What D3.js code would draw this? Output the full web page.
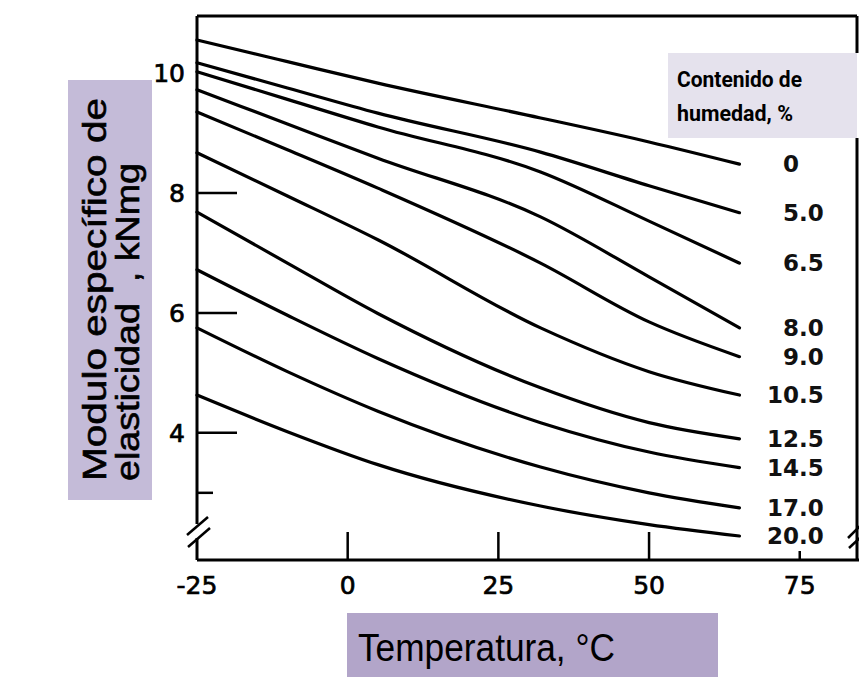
<!DOCTYPE html>
<html>
<head>
<meta charset="utf-8">
<script src="https://cdn.jsdelivr.net/npm/d3@7/dist/d3.min.js"></script>
<style>
	body { margin: 0; background: #fff; }
	svg { display: block; }
</style>
</head>
<body>
<svg id="svg_chart" width="859" height="677"></svg>
<script>
// temperatura (°C) de los puntos leidos
var temps = [-25, -10, 5, 32, 50, 65];

// modulo especifico por contenido de humedad
var m0 = [10.55, 10.19, 9.83, 9.25, 8.85, 8.48];
var m50 = [10.17, 9.75, 9.33, 8.68, 8.12, 7.67];
var m65 = [10.02, 9.56, 9.10, 8.35, 7.53, 6.83];
var m80 = [9.72, 9.15, 8.58, 7.60, 6.60, 5.75];
var m90 = [9.35, 8.72, 8.08, 6.83, 5.85, 5.27];
var m105 = [8.67, 7.95, 7.22, 5.75, 5.02, 4.63];
var m125 = [7.68, 6.83, 5.99, 4.75, 4.17, 3.90];
var m145 = [6.72, 5.96, 5.24, 4.17, 3.68, 3.42];
var m170 = [5.75, 5.02, 4.36, 3.43, 3.00, 2.75];
var m200 = [4.63, 4.02, 3.47, 2.78, 2.47, 2.28];

var seriesLabels = ["0", "5.0", "6.5", "8.0", "9.0", "10.5", "12.5", "14.5", "17.0", "20.0"];
var seriesValues = [m0, m50, m65, m80, m90, m105, m125, m145, m170, m200];

var xTicks = [-25, 0, 25, 50, 75];
var yTicks = [4, 6, 8, 10];
var yMinorTicks = [3];

var svg = d3.select("#svg_chart"),
	margin = {
		top: 16,
		left: 197,
		right: 857,
		bottom: 560
	};

var x = d3.scaleLinear()
	.domain([-25, 84.5])
	.range([margin.left, margin.right]);
var y = d3.scaleLinear()
	.domain([1.88, 10.95])
	.range([margin.bottom, margin.top]);

// cajas de titulo
svg.append("rect")
	.attr("x", 68).attr("y", 80)
	.attr("width", 84).attr("height", 420)
	.attr("fill", "#c4bbd8");
svg.append("rect")
	.attr("x", 347).attr("y", 613)
	.attr("width", 371).attr("height", 64)
	.attr("fill", "#b2a5c9");
svg.append("rect")
	.attr("x", 668).attr("y", 53)
	.attr("width", 189).attr("height", 85)
	.attr("fill", "#e5e2ed");

// marco
var g_frame = svg.append("g")
	.attr("stroke", "#000")
	.attr("stroke-width", 3)
	.attr("fill", "none");
g_frame.append("line")
	.attr("x1", margin.left).attr("x2", margin.left)
	.attr("y1", margin.top).attr("y2", margin.bottom);
g_frame.append("line")
	.attr("x1", margin.left).attr("x2", margin.right)
	.attr("y1", margin.top).attr("y2", margin.top);
g_frame.append("line")
	.attr("x1", margin.right).attr("x2", margin.right)
	.attr("y1", margin.top).attr("y2", 53);
g_frame.append("line")
	.attr("x1", margin.right).attr("x2", margin.right)
	.attr("y1", 138).attr("y2", margin.bottom);
g_frame.append("line")
	.attr("x1", margin.left).attr("x2", 859)
	.attr("y1", margin.bottom).attr("y2", margin.bottom);

// cortes de eje
svg.append("rect")
	.attr("x", margin.left - 3).attr("y", 524)
	.attr("width", 6).attr("height", 14)
	.attr("fill", "#fff");
var breaks = [
	[187, 535, 208, 517],
	[188, 547, 210, 528],
	[848, 538, 862, 524],
	[849, 548, 862, 536]
];
svg.append("g").selectAll("line").data(breaks).enter()
	.append("line")
	.attr("x1", function(d) { return d[0]; })
	.attr("y1", function(d) { return d[1]; })
	.attr("x2", function(d) { return d[2]; })
	.attr("y2", function(d) { return d[3]; })
	.attr("stroke", "#000")
	.attr("stroke-width", 2.5);

// ticks y
svg.append("g").selectAll("line").data(yTicks.filter(function(d) { return d < 10; })).enter()
	.append("line")
	.attr("x1", margin.left).attr("x2", margin.left + 40)
	.attr("y1", function(d) { return y(d); })
	.attr("y2", function(d) { return y(d); })
	.attr("stroke", "#000")
	.attr("stroke-width", 2.5);
svg.append("g").selectAll("line").data(yMinorTicks).enter()
	.append("line")
	.attr("x1", margin.left).attr("x2", margin.left + 16)
	.attr("y1", function(d) { return y(d); })
	.attr("y2", function(d) { return y(d); })
	.attr("stroke", "#000")
	.attr("stroke-width", 2.5);
svg.append("g").selectAll("text").data(yTicks).enter()
	.append("text")
	.attr("x", margin.left - 12)
	.attr("y", function(d) { return y(d) + 9; })
	.attr("text-anchor", "end")
	.attr("font-family", "DejaVu Sans, Verdana, sans-serif")
	.attr("font-size", 25)
	.attr("stroke", "#000")
	.attr("stroke-width", 0.7)
	.text(function(d) { return d; });

// ticks x
svg.append("g").selectAll("line").data(xTicks.filter(function(d) { return d > -25; })).enter()
	.append("line")
	.attr("x1", function(d) { return x(d); })
	.attr("x2", function(d) { return x(d); })
	.attr("y1", margin.bottom)
	.attr("y2", function(d) { return margin.bottom - (d == 75 ? 9 : 28); })
	.attr("stroke", "#000")
	.attr("stroke-width", 2.5);
svg.append("g").selectAll("text").data(xTicks).enter()
	.append("text")
	.attr("x", function(d) { return x(d); })
	.attr("y", 594)
	.attr("text-anchor", "middle")
	.attr("font-family", "DejaVu Sans, Verdana, sans-serif")
	.attr("font-size", 25)
	.attr("stroke", "#000")
	.attr("stroke-width", 0.7)
	.text(function(d) { return d; });

// curvas
var line = d3.line()
	.x(function(d, i) { return x(temps[i]); })
	.y(function(d) { return y(d); })
	.curve(d3.curveMonotoneX);

svg.append("g").selectAll("path").data(seriesValues).enter()
	.append("path")
	.attr("d", function(d) { return line(d); })
	.attr("fill", "none")
	.attr("stroke", "#000")
	.attr("stroke-width", 3.2)
	.attr("stroke-linecap", "round");

// etiquetas de humedad, alineadas en el punto decimal
var g_lab = svg.append("g")
	.attr("font-family", "DejaVu Sans, Verdana, sans-serif")
	.attr("font-weight", "bold")
	.attr("font-size", 23)
	.attr("fill", "#111");
seriesLabels.forEach(function(lab, i) {
	var vals = seriesValues[i];
	var ly = y(vals[vals.length - 1]) + 8;
	var parts = lab.split(".");
	g_lab.append("text")
		.attr("x", 799).attr("y", ly)
		.attr("text-anchor", "end")
		.text(parts[0]);
	if (parts.length > 1) {
		g_lab.append("text")
			.attr("x", 799).attr("y", ly)
			.attr("text-anchor", "start")
			.text("." + parts[1]);
	}
});

// leyenda
svg.append("text")
	.attr("x", 677).attr("y", 87)
	.attr("font-family", "Liberation Sans Narrow, Roboto, sans-serif")
	.attr("font-weight", "bold")
	.attr("font-size", 22)
	.attr("textLength", 125)
	.attr("lengthAdjust", "spacingAndGlyphs")
	.text("Contenido de");
svg.append("text")
	.attr("x", 677).attr("y", 121)
	.attr("font-family", "Liberation Sans Narrow, Roboto, sans-serif")
	.attr("font-weight", "bold")
	.attr("font-size", 22)
	.attr("textLength", 116)
	.attr("lengthAdjust", "spacingAndGlyphs")
	.text("humedad, %");

// titulos de ejes
svg.append("text")
	.attr("x", 358).attr("y", 661)
	.attr("font-family", "Liberation Sans, Arial, sans-serif")
	.attr("font-size", 38)
	.attr("textLength", 257)
	.attr("lengthAdjust", "spacingAndGlyphs")
	.text("Temperatura, °C");

svg.append("text")
	.attr("transform", "translate(106,481) rotate(-90)")
	.attr("font-family", "Liberation Sans, Arial, sans-serif")
	.attr("font-size", 33)
	.attr("stroke", "#000")
	.attr("stroke-width", 0.6)
	.attr("textLength", 383)
	.attr("lengthAdjust", "spacingAndGlyphs")
	.text("Modulo específico de");
svg.append("text")
	.attr("transform", "translate(139,481) rotate(-90)")
	.attr("font-family", "Liberation Sans, Arial, sans-serif")
	.attr("font-size", 33)
	.attr("stroke", "#000")
	.attr("stroke-width", 0.6)
	.attr("textLength", 318)
	.attr("lengthAdjust", "spacingAndGlyphs")
	.text("elasticidad\u00a0\u00a0, kNmg");
</script>
</body>
</html>
